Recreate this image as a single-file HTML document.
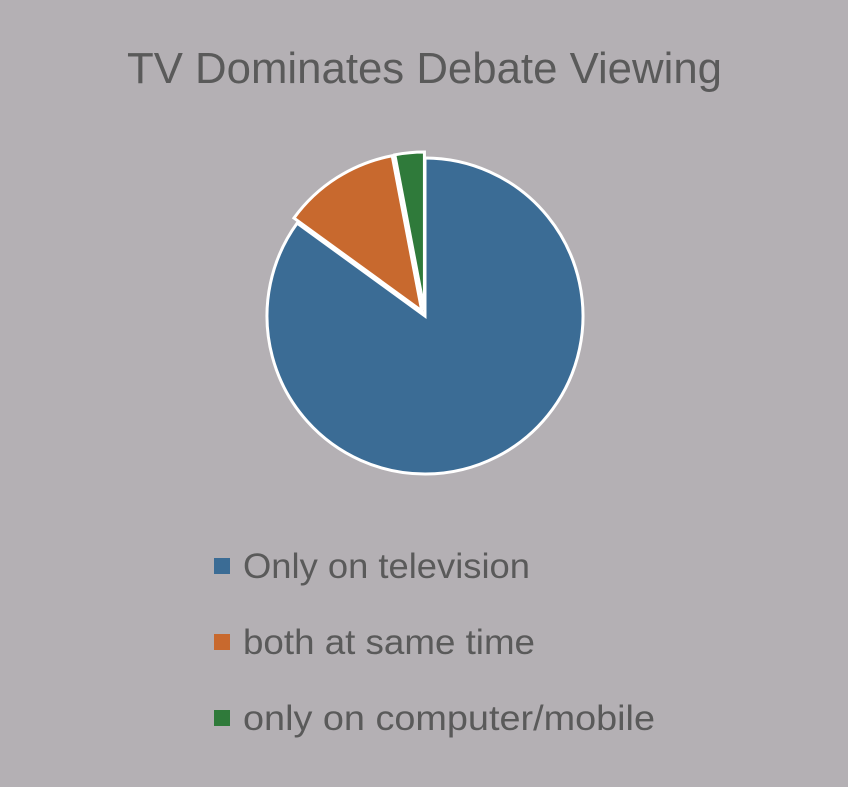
<!DOCTYPE html>
<html><head><meta charset="utf-8"><style>
html,body{margin:0;padding:0;}
body{width:848px;height:782px;background:#b4b0b4;font-family:"Liberation Sans",sans-serif;overflow:hidden;}
</style></head><body>
<svg width="848" height="782">
<text x="127" y="83" textLength="595" lengthAdjust="spacingAndGlyphs" font-size="44" fill="#5a5a5a">TV Dominates Debate Viewing</text>
<g id="slices"></g>
<g id="legend"></g>
</svg>
<script>
const categories = ["Only on television","both at same time","only on computer/mobile"];
const values = [85, 12, 3];
const colors = ["#3b6c95","#c8692e","#2f7a3a"];
const labelWidths = [287, 292, 412];
const cx=425, cy=316, r=158;
const ns="http://www.w3.org/2000/svg";
const total=values.reduce((a,b)=>a+b,0);
let a0=0;
const g=document.getElementById('slices');
values.forEach((v,i)=>{
  const a1=a0+v/total*2*Math.PI;
  const mid=(a0+a1)/2, off=i===0?0:6;
  const ox=Math.sin(mid)*off, oy=-Math.cos(mid)*off;
  const x0=cx+ox+r*Math.sin(a0), y0=cy+oy-r*Math.cos(a0);
  const x1=cx+ox+r*Math.sin(a1), y1=cy+oy-r*Math.cos(a1);
  const p=document.createElementNS(ns,'path');
  p.setAttribute('d',`M${cx+ox},${cy+oy}L${x0},${y0}A${r},${r} 0 ${a1-a0>Math.PI?1:0} 1 ${x1},${y1}Z`);
  p.setAttribute('fill',colors[i]);
  p.setAttribute('stroke','#ffffff');
  p.setAttribute('stroke-width','3');
  
  
  g.appendChild(p);
  a0=a1;
});
const lg=document.getElementById('legend');
categories.forEach((c,i)=>{
  const y=566+i*76;
  const rc=document.createElementNS(ns,'rect');
  rc.setAttribute('x',214);rc.setAttribute('y',y-8);rc.setAttribute('width',16);rc.setAttribute('height',16);
  rc.setAttribute('fill',colors[i]);
  
  
  lg.appendChild(rc);
  const t=document.createElementNS(ns,'text');
  t.setAttribute('x',243);t.setAttribute('y',y+12);t.setAttribute('font-size','35');t.setAttribute('fill','#5a5a5a');
  t.setAttribute('textLength',labelWidths[i]);t.setAttribute('lengthAdjust','spacingAndGlyphs');
  t.textContent=c;
  
  
  lg.appendChild(t);
});
</script>
</body></html>
